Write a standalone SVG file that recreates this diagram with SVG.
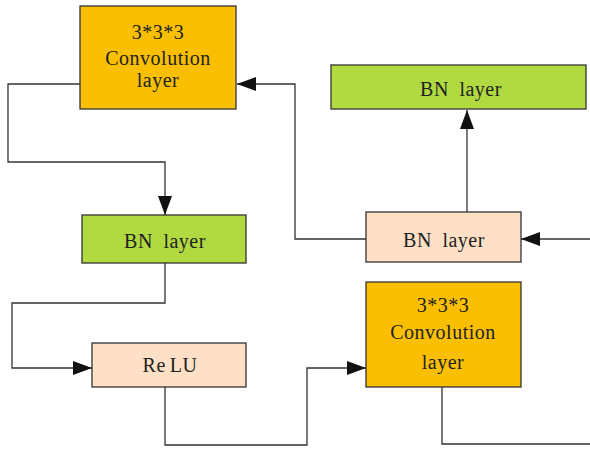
<svg xmlns="http://www.w3.org/2000/svg" width="590" height="449" viewBox="0 0 590 449">
<style>
.box{stroke:#333;stroke-width:1.3}
.conv{fill:#F9BF00}
.bn{fill:#B1D940}
.peach{fill:#FDE0C5}
.t{font-family:"Liberation Serif",serif;font-size:20px;fill:#222;text-anchor:middle;letter-spacing:0.5px;word-spacing:5px}
.c{fill:none;stroke:#333;stroke-width:1.3}
</style>
<defs>
<marker id="ah" markerUnits="userSpaceOnUse" markerWidth="21" markerHeight="15" refX="19" refY="7" orient="auto">
<path d="M0,0 L19,7 L0,14 z" fill="#111"/>
</marker>
</defs>
<g id="connectors">
<path class="c" d="M80,84 H8 V162 H165 V215" marker-end="url(#ah)"/>
<path class="c" d="M165,263 V303 H12 V368 H92" marker-end="url(#ah)"/>
<path class="c" d="M165,387 V445 H307 V368 H366" marker-end="url(#ah)"/>
<path class="c" d="M442,387 V444 H590"/>
<path class="c" d="M590,239 H521" marker-end="url(#ah)"/>
<path class="c" d="M467,212 V110" marker-end="url(#ah)"/>
<path class="c" d="M366,239 H295 V84 H237" marker-end="url(#ah)"/>
</g>
<g id="conv1">
<rect class="box conv" x="80" y="6" width="156" height="103"/>
<text class="t" x="158" y="39">3*3*3</text>
<text class="t" x="158" y="65">Convolution</text>
<text class="t" x="158" y="87">layer</text>
</g>
<g id="bn-top">
<rect class="box bn" x="331" y="65" width="255" height="44"/>
<text class="t" x="461" y="96">BN layer</text>
</g>
<g id="bn1">
<rect class="box bn" x="82" y="215" width="164" height="48"/>
<text class="t" x="165" y="248">BN layer</text>
</g>
<g id="bn2">
<rect class="box peach" x="366" y="212" width="155" height="50"/>
<text class="t" x="444" y="247">BN layer</text>
</g>
<g id="relu">
<rect class="box peach" x="92" y="343" width="154" height="44"/>
<text class="t" x="170" y="372" style="word-spacing:-1.5px">Re LU</text>
</g>
<g id="conv2">
<rect class="box conv" x="366" y="282" width="155" height="105"/>
<text class="t" x="443" y="312">3*3*3</text>
<text class="t" x="443" y="339">Convolution</text>
<text class="t" x="443" y="369">layer</text>
</g>
</svg>
